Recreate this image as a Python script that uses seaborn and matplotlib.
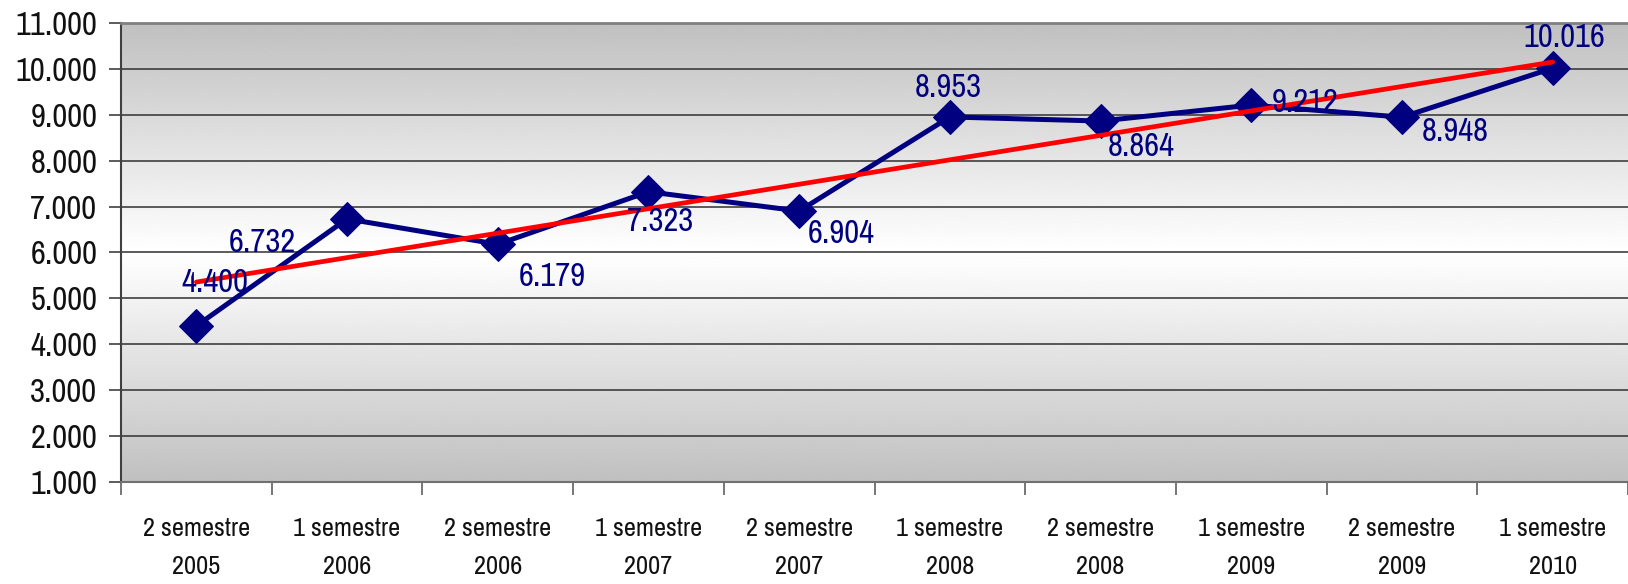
import matplotlib
matplotlib.use("Agg")
import matplotlib.pyplot as plt
from matplotlib.ticker import FuncFormatter, MultipleLocator
import numpy as np
import pandas as pd
import seaborn as sns

# Data
periods = ["2 semestre\n2005", "1 semestre\n2006", "2 semestre\n2006", "1 semestre\n2007",
           "2 semestre\n2007", "1 semestre\n2008", "2 semestre\n2008", "1 semestre\n2009",
           "2 semestre\n2009", "1 semestre\n2010"]
values = [4400, 6732, 6179, 7323, 6904, 8953, 8864, 9212, 8948, 10016]

# label offsets in pixels (layout only)
label_offsets = [(19, 43), (-85, -24), (55, -33), (12, -30), (42, -23),
                 (-2, 29), (41, -26), (54, 2), (53, -15), (12, 30)]

df = pd.DataFrame({"pos": np.arange(len(values)), "value": values})

sns.set_style("white")
narrow = ["Liberation Sans Narrow", "Archivo Narrow", "DejaVu Sans"]
plt.rcParams["font.family"] = narrow

fig = plt.figure(figsize=(16.28, 5.84), dpi=100)
ax = fig.add_axes([121 / 1628, 1 - 482 / 584, 1 - 121 / 1628, (482 - 23) / 584])

# gradient background (grey - white - grey)
grad = np.concatenate([np.linspace(0.753, 1.0, 128), np.linspace(1.0, 0.753, 128)]).reshape(-1, 1)
ax.imshow(grad, cmap="gray", vmin=0, vmax=1, aspect="auto", extent=[0, 1, 0, 1],
          transform=ax.transAxes, zorder=0, interpolation="bilinear")

# main line
sns.lineplot(data=df, x="pos", y="value", ax=ax, color="#000080", linewidth=3.6,
             marker="D", markersize=17, markeredgecolor="#000080", zorder=4)

# linear trend line
sns.regplot(data=df, x="pos", y="value", ax=ax, scatter=False, ci=None,
            line_kws={"color": "#ff0000", "linewidth": 3.4, "zorder": 5})

for i, v in enumerate(values):
    dx, dy = label_offsets[i]
    ax.annotate(f"{v:,}".replace(",", "."), (i, v), xytext=(dx, dy), textcoords="offset pixels",
                ha="center", va="center", color="#000080", fontsize=23.5, zorder=6)

ax.set_xlim(-0.5, len(values) - 0.5)
ax.set_ylim(1000, 11000)
ax.yaxis.set_major_locator(MultipleLocator(1000))
ax.yaxis.set_major_formatter(FuncFormatter(lambda v, p: f"{int(v):,}".replace(",", ".")))
ax.grid(axis="y", color="#303030", linewidth=1.1)
ax.set_axisbelow(True)

ax.set_xticks(np.arange(-0.5, len(values), 1))
ax.set_xticklabels([])
ax.set_xticks(np.arange(len(values)), minor=True)
ax.set_xticklabels(periods, minor=True, fontsize=19, linespacing=1.8)
ax.tick_params(axis="x", which="major", direction="out", length=9, width=1.2, color="#606060", bottom=True)
ax.tick_params(axis="x", which="minor", length=0, pad=25, colors="#111111")
ax.tick_params(axis="y", direction="out", length=9, width=1.2, color="#404040", left=True,
               pad=8, labelsize=23.5, labelcolor="#111111")

ax.set_xlabel("")
ax.set_ylabel("")
ax.spines["right"].set_visible(False)
ax.spines["top"].set_color("#808080")
ax.spines["top"].set_linewidth(2)
ax.spines["left"].set_color("#404040")
ax.spines["left"].set_linewidth(1.5)
ax.spines["bottom"].set_color("#707070")
ax.spines["bottom"].set_linewidth(1.5)

fig.savefig("out.png", dpi=100)
